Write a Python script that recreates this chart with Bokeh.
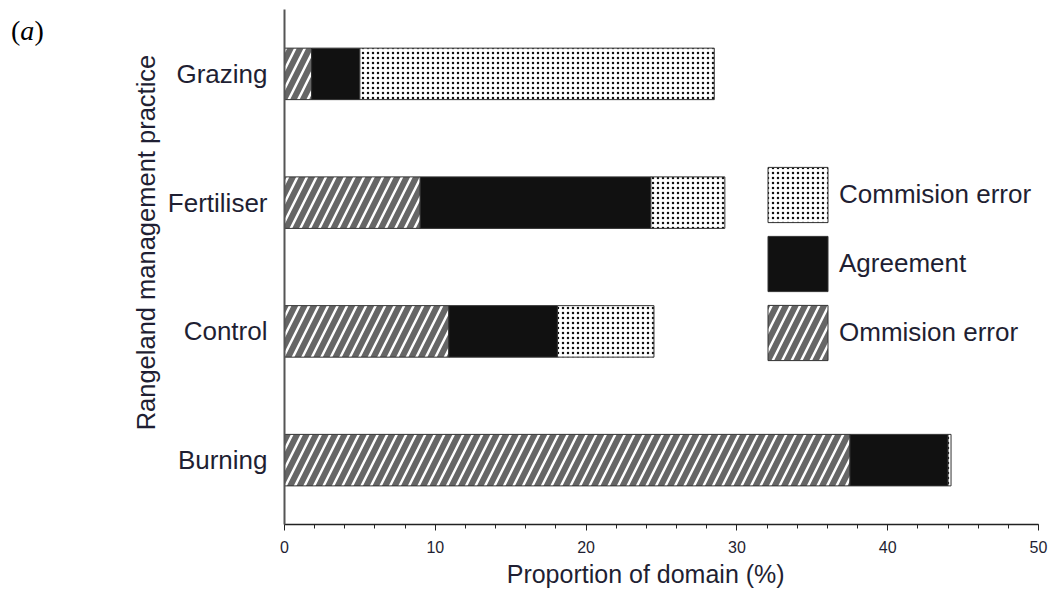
import math
from bokeh.plotting import figure
from bokeh.models import (Range1d, FactorRange, Legend, LegendItem, Label,
                          SingleIntervalTicker, ColumnDataSource)
from bokeh.embed import file_html
from bokeh.resources import INLINE

# ---- data ----
practices = ["Burning", "Control", "Fertiliser", "Grazing"]
omission = [37.5, 10.9, 9.0, 1.8]
agreement = [6.5, 7.2, 15.3, 3.2]
commission = [0.2, 6.4, 4.9, 23.5]
series = ["omission", "agreement", "commission"]
series_labels = ["Ommision error", "Agreement", "Commision error"]
x_label = "Proportion of domain (%)"
y_label = "Rangeland management practice"

source = ColumnDataSource(dict(practice=practices, omission=omission,
                               agreement=agreement, commission=commission))

TEXT = "#1f1f33"
FONT = "Liberation Sans"

p = figure(width=1051, height=591, output_backend="svg", toolbar_location=None,
           x_range=Range1d(0, 50),
           y_range=FactorRange(factors=practices, range_padding=0),
           min_border_left=284, min_border_right=13, min_border_top=9,
           min_border_bottom=67)
p.outline_line_color = None
p.xgrid.visible = False
p.ygrid.visible = False
p.background_fill_color = "white"

rends = p.hbar_stack(series, y="practice", height=0.4, source=source,
                     fill_color=["#666666", "#111111", "white"],
                     hatch_pattern=["/", None, "."],
                     hatch_color=["white", None, "#111111"],
                     hatch_scale=[19, 12, 5],
                     hatch_weight=[2.5, 1, 3],
                     line_color="#333333", line_width=1)

# axes
xa = p.xaxis[0]
xa.ticker = SingleIntervalTicker(interval=10, num_minor_ticks=5)
xa.major_tick_out = 6
xa.major_tick_in = 0
xa.minor_tick_out = 4
xa.minor_tick_in = 0
xa.axis_line_width = 1.5
xa.axis_line_color = "#222222"
xa.major_tick_line_color = "#222222"
xa.minor_tick_line_color = "#222222"
xa.major_label_standoff = 10
xa.major_label_text_font = FONT
xa.major_label_text_font_size = "16px"
xa.major_label_text_color = TEXT

ya = p.yaxis[0]
ya.major_tick_line_color = None
ya.minor_tick_line_color = None
ya.axis_line_width = 2
ya.axis_line_color = "#555555"
ya.major_label_standoff = 11
ya.major_label_text_font = FONT
ya.major_label_text_font_size = "26px"
ya.major_label_text_color = TEXT

# axis titles (placed in the side panels)
p.add_layout(Label(x=23.95, y=-0.385, text=x_label, text_font=FONT,
                   text_font_size="25px", text_color=TEXT,
                   text_align="center", text_baseline="middle"), "below")
p.add_layout(Label(x=-9.19, y=2.19, text=y_label, text_font=FONT,
                   text_font_size="25.5px", text_color=TEXT, angle=math.pi / 2,
                   text_align="center", text_baseline="middle"), "left")

# panel tag "(a)"
for txt, xx, style in [("(", -18.14, "normal"), ("a", -17.53, "italic"), (")", -16.58, "normal")]:
    p.add_layout(Label(x=xx, y=3.835, text=txt, text_font="Liberation Serif",
                       text_font_size="28px", text_font_style=style,
                       text_color="black", text_align="left",
                       text_baseline="middle"), "left")

legend = Legend(items=[LegendItem(label=series_labels[i], renderers=[rends[i]])
                       for i in (2, 1, 0)],
                location=(476, 157), orientation="vertical",
                glyph_width=75, glyph_height=69, spacing=0, padding=0, margin=0,
                label_standoff=4, label_text_font=FONT,
                label_text_font_size="26px", label_text_color=TEXT,
                border_line_color=None, background_fill_alpha=0)
p.add_layout(legend, "center")

open("out.html", "w").write(file_html(p, INLINE))
